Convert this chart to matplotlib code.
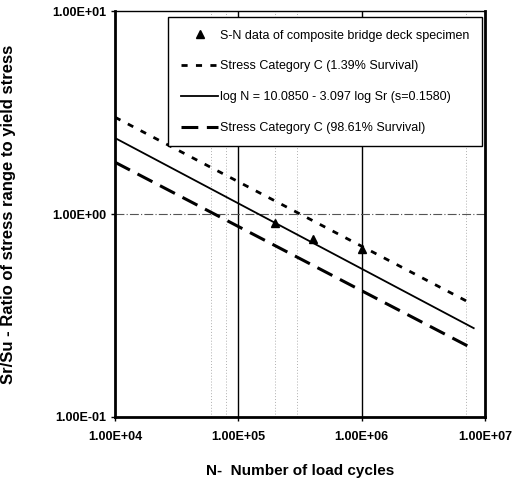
import matplotlib
matplotlib.use("Agg")
import matplotlib.pyplot as plt
from matplotlib.ticker import FuncFormatter, NullLocator

plt.rcParams['font.family'] = ['Liberation Sans', 'DejaVu Sans']

# Data
test_N = [2.0e5, 4.0e5, 1.0e6]
test_ratio = [0.90, 0.755, 0.675]

cat_c_hi_N = [1e4, 7.3e6]          # Stress Category C (1.39% Survival)
cat_c_hi_ratio = [3.0, 0.369]

fit_N = [1e4, 8.1e6]               # log N = 10.0850 - 3.097 log Sr
fit_ratio = [2.37, 0.274]

cat_c_lo_N = [1e4, 8.1e6]          # Stress Category C (98.61% Survival)
cat_c_lo_ratio = [1.80, 0.216]

x_ticks = [1e4, 1e5, 1e6, 1e7]
y_ticks = [1e-1, 1e0, 1e1]
major_vlines = [1e5, 1e6]
faint_vlines = [6e4, 8e4, 2e5, 3e5, 7e6]

labels = ["S-N data of composite bridge deck specimen",
          "Stress Category C (1.39% Survival)",
          "log N = 10.0850 - 3.097 log Sr (s=0.1580)",
          "Stress Category C (98.61% Survival)"]

fig = plt.figure(figsize=(5.13, 4.82), dpi=100)
ax = fig.add_axes([0.2242, 0.1349, 0.7212, 0.842])

# grid
for v in faint_vlines:
    ax.axvline(v, color='#b0b0b0', lw=0.7, ls=(0, (1, 2)), zorder=1)
for v in major_vlines:
    ax.axvline(v, color='black', lw=1.0, zorder=1)
ax.axhline(1.0, color='#555555', lw=0.8, ls=(0, (8, 2, 1, 2)), zorder=1)

ax.plot(test_N, test_ratio, ls='none', marker='^', color='black',
        markersize=6, label=labels[0], zorder=4)
ax.plot(cat_c_hi_N, cat_c_hi_ratio, color='black', lw=2.0,
        ls=(0, (2.2, 3)), label=labels[1], zorder=3)
ax.plot(fit_N, fit_ratio, color='black', lw=1.3, label=labels[2], zorder=3)
ax.plot(cat_c_lo_N, cat_c_lo_ratio, color='black', lw=2.2,
        ls=(0, (5.5, 2.8)), label=labels[3], zorder=3)

ax.set_xscale('log')
ax.set_yscale('log')
ax.set_xlim(1e4, 1e7)
ax.set_ylim(1e-1, 1e1)
ax.set_xticks(x_ticks)
ax.set_yticks(y_ticks)
ax.xaxis.set_minor_locator(NullLocator())
ax.yaxis.set_minor_locator(NullLocator())
fmt = FuncFormatter(lambda v, pos: f"{v:.2E}")
ax.xaxis.set_major_formatter(fmt)
ax.yaxis.set_major_formatter(fmt)
ax.tick_params(direction='out', length=3, width=1, labelsize=9)
ax.tick_params(axis='x', pad=7)
ax.tick_params(axis='y', pad=3)
for lab in ax.get_xticklabels() + ax.get_yticklabels():
    lab.set_fontweight('bold')

for side in ['left', 'bottom', 'right']:
    ax.spines[side].set_linewidth(2.0)
ax.spines['top'].set_linewidth(1.0)

ax.set_xlabel('N-  Number of load cycles', fontsize=11, fontweight='bold',
              labelpad=15)
ax.set_ylabel('Sr/Su - Ratio of stress range to yield stress', fontsize=12,
              fontweight='bold', labelpad=26)

leg = ax.legend(loc='upper right', bbox_to_anchor=(0.992, 0.985),
                borderaxespad=0, fontsize=9, numpoints=1, handlelength=3.0,
                handletextpad=0.15, labelspacing=1.5, borderpad=1.0,
                fancybox=False, framealpha=1, edgecolor='black')
leg.get_frame().set_linewidth(1.0)

fig.savefig('out.png', dpi=100)
